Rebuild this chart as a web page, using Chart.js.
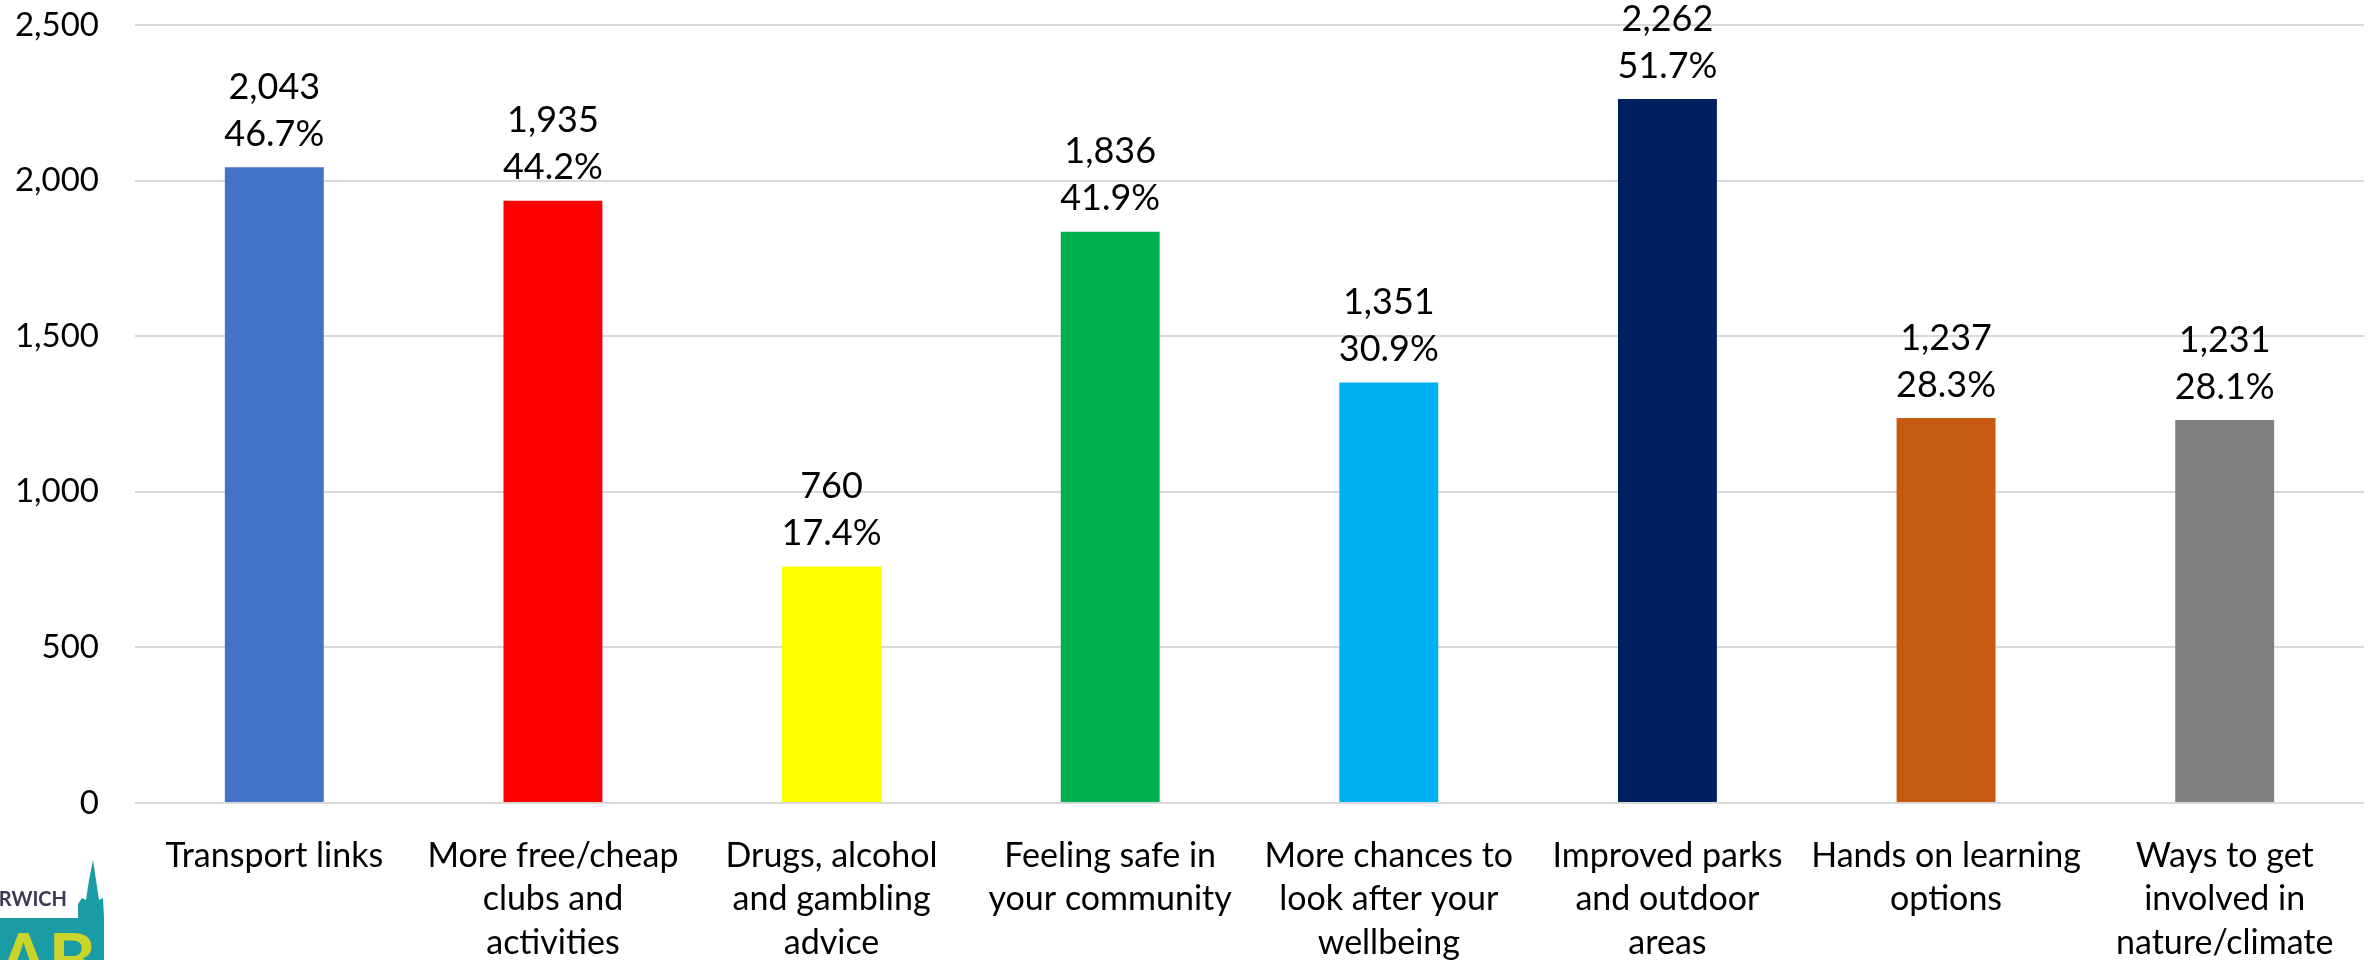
<!DOCTYPE html>
<html>
<head>
<meta charset="utf-8">
<script src="https://cdn.jsdelivr.net/npm/chart.js@4"></script>
<style>
  html, body { margin: 0; padding: 0; background: #fff; }
  #wrap { width: 2379px; height: 960px; }
</style>
</head>
<body>
<div id="wrap"><canvas id="chart" width="2379" height="960"></canvas></div>
<script>
let labels = [
    'Transport links',
    ['More free/cheap', 'clubs and', 'activities'],
    ['Drugs, alcohol', 'and gambling', 'advice'],
    ['Feeling safe in', 'your community'],
    ['More chances to', 'look after your', 'wellbeing'],
    ['Improved parks', 'and outdoor', 'areas'],
    ['Hands on learning', 'options'],
    ['Ways to get', 'involved in', 'nature/climate']
];
let counts = [2043, 1935, 760, 1836, 1351, 2262, 1237, 1231];
let percents = [46.7, 44.2, 17.4, 41.9, 30.9, 51.7, 28.3, 28.1];
let colors = ['#4472C4', '#FF0000', '#FFFF00', '#00B050', '#00B0F0', '#002060', '#C55A11', '#808080'];
let yTicks = [0, 500, 1000, 1500, 2000, 2500];

const FONT = 'Lato, "Open Sans", sans-serif';

// two line value labels above each bar
const barLabels = {
    id: 'barLabels',
    afterDatasetsDraw(chart) {
        let ctx = chart.ctx;
        let meta = chart.getDatasetMeta(0);
        ctx.save();
        ctx.font = '36px ' + FONT;
        ctx.fillStyle = '#000';
        ctx.textAlign = 'center';
        ctx.textBaseline = 'middle';
        meta.data.forEach((bar, i) => {
            ctx.fillText(counts[i].toLocaleString('en-US'), bar.x, bar.y - 80);
            ctx.fillText(percents[i].toFixed(1) + '%', bar.x, bar.y - 33);
        });
        ctx.restore();
    }
};

// partial logo in the bottom left corner
const logo = {
    id: 'logo',
    afterDraw(chart) {
        let ctx = chart.ctx;
        ctx.save();
        ctx.fillStyle = '#1b9ba3';
        ctx.beginPath();
        ctx.moveTo(0, 918);
        ctx.lineTo(78, 918);
        ctx.lineTo(78, 904);
        ctx.lineTo(82, 898);
        ctx.lineTo(86, 900);
        ctx.lineTo(89, 880);
        ctx.lineTo(93, 860);
        ctx.lineTo(96, 880);
        ctx.lineTo(99, 900);
        ctx.lineTo(103, 898);
        ctx.lineTo(104, 918);
        ctx.lineTo(104, 960);
        ctx.lineTo(0, 960);
        ctx.closePath();
        ctx.fill();
        ctx.fillStyle = '#3b3a55';
        ctx.font = 'bold 20px ' + FONT;
        ctx.textAlign = 'right';
        ctx.textBaseline = 'alphabetic';
        ctx.fillText('NORWICH', 67, 906);
        ctx.fillStyle = '#c9d52a';
        ctx.font = 'bold 72px ' + FONT;
        ctx.fillText('LAB', 96, 986);
        ctx.restore();
    }
};

let ctx = document.getElementById('chart').getContext('2d');
let chart = new Chart(ctx, {
    type: 'bar',
    data: {
        labels: labels,
        datasets: [{
            data: counts,
            backgroundColor: colors,
            borderWidth: 0,
            barPercentage: 0.355,
            categoryPercentage: 1
        }]
    },
    options: {
        responsive: false,
        animation: false,
        layout: { padding: { top: 25, right: 15, left: 0, bottom: 0 } },
        plugins: {
            legend: { display: false },
            tooltip: { enabled: false }
        },
        scales: {
            x: {
                grid: { display: false },
                border: { display: false },
                ticks: {
                    color: '#000',
                    font: { family: FONT, size: 34, lineHeight: 1.28 },
                    padding: 23,
                    maxRotation: 0,
                    autoSkip: false
                },
                afterFit(scale) {
                    scale.height = 157;
                    scale.paddingLeft = 0;
                    scale.paddingRight = 0;
                }
            },
            y: {
                min: 0,
                max: 2500,
                afterBuildTicks(scale) {
                    scale.ticks = yTicks.map(v => ({ value: v }));
                },
                grid: { color: '#d9d9d9', lineWidth: 2, drawTicks: false },
                border: { display: false },
                ticks: {
                    color: '#000',
                    font: { family: FONT, size: 33 },
                    padding: 36,
                    callback: v => v.toLocaleString('en-US')
                },
                afterFit(scale) {
                    scale.width = 135;
                    scale.paddingTop = 0;
                    scale.paddingBottom = 0;
                }
            }
        }
    },
    plugins: [barLabels, logo]
});
</script>
</body>
</html>
